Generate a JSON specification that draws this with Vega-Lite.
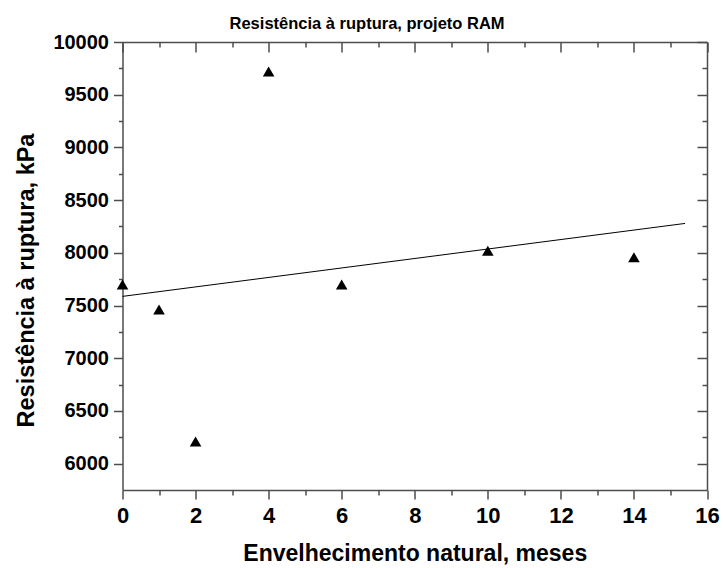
{
  "$schema": "https://vega.github.io/schema/vega-lite/v6.json",
  "width": 584.5,
  "height": 448,
  "autosize": {"type": "none"},
  "padding": {"left": 122.5, "top": 42, "right": 16, "bottom": 78},
  "background": "white",
  "config": {
    "view": {"stroke": null},
    "font": "Liberation Sans",
    "axis": {
      "domainColor": "#4d4d4d",
      "domainWidth": 1.5,
      "tickColor": "#4d4d4d",
      "tickWidth": 1.5,
      "grid": false,
      "labelColor": "black",
      "labelFont": "Liberation Sans",
      "labelFontWeight": "bold",
      "titleColor": "black",
      "titleFont": "Liberation Sans",
      "titleFontWeight": "bold"
    }
  },
  "title": {
    "text": "Resistência à ruptura, projeto RAM",
    "font": "Liberation Sans",
    "fontSize": 16.5,
    "fontWeight": "bold",
    "color": "black",
    "anchor": "middle",
    "frame": "bounds",
    "offset": 0
  },
  "data": {
    "values": [
      {"meses": 0, "kpa": 7700},
      {"meses": 1, "kpa": 7462},
      {"meses": 2, "kpa": 6210},
      {"meses": 4, "kpa": 9720},
      {"meses": 6, "kpa": 7700},
      {"meses": 10, "kpa": 8020},
      {"meses": 14, "kpa": 7958}
    ]
  },
  "layer": [
    {
      "mark": {"type": "point", "shape": "triangle-up", "filled": true, "color": "black", "opacity": 1, "size": 135},
      "encoding": {
        "x": {
          "field": "meses", "type": "quantitative",
          "scale": {"domain": [0, 16], "nice": false},
          "axis": {
            "orient": "bottom",
            "title": "Envelhecimento natural, meses",
            "titleFontSize": 23,
            "titlePadding": 16,
            "values": [0,1,2,3,4,5,6,7,8,9,10,11,12,13,14,15,16],
            "labelExpr": "datum.value % 2 === 0 ? datum.label : ''",
            "labelFontSize": 22,
            "labelPadding": 6,
            "labelFlush": false,
            "labelOverlap": false,
            "tickSize": {"condition": {"test": "datum.value % 2 !== 0", "value": 5}, "value": 9}
          }
        },
        "y": {
          "field": "kpa", "type": "quantitative",
          "scale": {"domain": [5750, 10000], "nice": false, "zero": false},
          "axis": {
            "orient": "left",
            "title": "Resistência à ruptura, kPa",
            "titleFontSize": 23.5,
            "titlePadding": 14,
            "titleY": 238,
            "values": [6000,6250,6500,6750,7000,7250,7500,7750,8000,8250,8500,8750,9000,9250,9500,9750,10000],
            "labelExpr": "datum.value % 500 === 0 ? datum.label : ''",
            "format": "d",
            "labelFontSize": 20,
            "labelPadding": 5,
            "labelFlush": false,
            "labelOverlap": false,
            "tickSize": {"condition": {"test": "datum.value % 500 !== 0", "value": 4}, "value": 9}
          }
        }
      }
    },
    {
      "transform": [
        {"regression": "kpa", "on": "meses", "extent": [0, 15.4]}
      ],
      "mark": {"type": "line", "color": "black", "strokeWidth": 1},
      "encoding": {
        "x": {
          "field": "meses", "type": "quantitative",
          "axis": {
            "orient": "top",
            "title": null,
            "labels": false,
            "values": [0,1,2,3,4,5,6,7,8,9,10,11,12,13,14,15,16],
            "tickSize": {"condition": {"test": "datum.value % 2 !== 0", "value": -5}, "value": -10}
          }
        },
        "y": {
          "field": "kpa", "type": "quantitative",
          "axis": {
            "orient": "right",
            "title": null,
            "labels": false,
            "values": [6000,6250,6500,6750,7000,7250,7500,7750,8000,8250,8500,8750,9000,9250,9500,9750,10000],
            "tickSize": {"condition": {"test": "datum.value % 500 !== 0", "value": -5}, "value": -10}
          }
        }
      }
    }
  ],
  "resolve": {"axis": {"x": "independent", "y": "independent"}}
}
